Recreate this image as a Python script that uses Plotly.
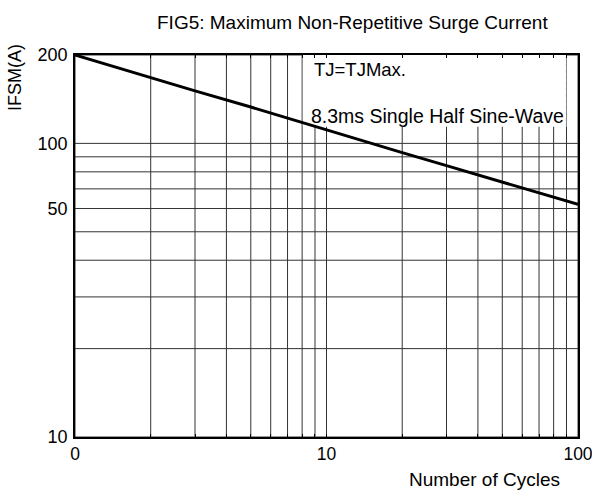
import plotly.graph_objects as go

# Data (log-log straight line)
cycles = [1, 2, 3, 5, 10, 20, 30, 50, 100]
ifsm = [200, 167, 151, 133, 111, 93, 84, 74, 62]

# Tick labels as shown on the reference
x_tickvals = [1, 10, 100]
x_ticktext = ["0", "10", "100"]
y_tickvals = [10, 60, 100, 200]
y_ticktext = ["10", "50", "100", "200"]

x_grid = [1, 2, 3, 4, 5, 6, 7, 8, 9, 10, 20, 30, 40, 50, 60, 70, 80, 90, 100]
y_grid = [10, 20, 30, 40, 50, 60, 70, 80, 90, 100, 200]

FONT = "Liberation Sans, Arial, sans-serif"
grid_col = "#333333"

fig = go.Figure()
fig.add_trace(go.Scatter(x=cycles, y=ifsm, mode="lines",
                         line=dict(color="black", width=3), showlegend=False,
                         hoverinfo="skip"))

# grid lines (drawn as shapes so the text box can cover them)
for gx in x_grid:
    fig.add_shape(type="line", xref="x", yref="paper", x0=gx, x1=gx, y0=0, y1=1,
                  line=dict(color=grid_col, width=1), layer="below")
for gy in y_grid:
    fig.add_shape(type="line", xref="paper", yref="y", x0=0, x1=1, y0=gy, y1=gy,
                  line=dict(color=grid_col, width=1), layer="below")

# white text box covering the grid in the upper right
fig.add_shape(type="rect", xref="paper", yref="paper", x0=0.453, x1=0.977, y0=0.812, y1=1.0,
              fillcolor="white", line=dict(width=0), layer="below")
fig.add_shape(type="line", xref="paper", yref="paper", x0=0.977, x1=0.977, y0=0.812, y1=1.0,
              line=dict(color="#888", width=1, dash="dot"), layer="below")

fig.update_xaxes(type="log", range=[0, 2], tickvals=x_tickvals, ticktext=x_ticktext,
                 showgrid=False, automargin=False, ticklabeloverflow="allow",
                 minor=dict(tickvals=x_grid, showgrid=False,
                            ticks="inside", ticklen=3, tickcolor="black"),
                 ticks="inside", ticklen=3, tickcolor="black",
                 showline=True, linecolor="black", linewidth=1.5, mirror="ticks",
                 zeroline=False, tickfont=dict(family=FONT, size=17.5, color="black"))
fig.update_yaxes(type="log", range=[1, 2.30103], tickvals=y_tickvals, ticktext=y_ticktext,
                 showgrid=False, automargin=False, ticklabeloverflow="allow",
                 ticks="", showline=True, linecolor="black", linewidth=1.5, mirror=True,
                 zeroline=False, ticklabelstandoff=2,
                 tickfont=dict(family=FONT, size=18, color="black"))

fig.add_annotation(text="TJ=TJMax.", xref="paper", yref="paper", x=0.471, y=0.963,
                   xanchor="left", yanchor="middle", showarrow=False,
                   font=dict(family=FONT, size=18.5, color="black"))
fig.add_annotation(text="8.3ms Single Half Sine-Wave", xref="paper", yref="paper", x=0.465, y=0.84,
                   xanchor="left", yanchor="middle", showarrow=False,
                   font=dict(family=FONT, size=19.5, color="black"))

fig.add_annotation(text="FIG5: Maximum Non-Repetitive Surge Current", xref="paper", yref="paper",
                   x=0.551, y=1.0, yshift=33, xanchor="center", yanchor="middle", showarrow=False,
                   font=dict(family=FONT, size=19, color="black"))
fig.add_annotation(text="IFSM(A)", xref="paper", yref="paper", x=0, xshift=-60, y=0.94,
                   xanchor="center", yanchor="middle", textangle=-90, showarrow=False,
                   font=dict(family=FONT, size=18, color="black"))
fig.add_annotation(text="Number of Cycles", xref="paper", yref="paper", x=0.968, y=0, yshift=-42,
                   xanchor="right", yanchor="middle", showarrow=False,
                   font=dict(family=FONT, size=19, color="black"))

fig.update_layout(width=592, height=493, margin=dict(l=75, r=14, t=55, b=56),
                  plot_bgcolor="white", paper_bgcolor="white")

fig.write_html("out.html", config={"displayModeBar": False},
               post_script="document.body.style.margin='0';document.body.style.overflow='hidden';")
